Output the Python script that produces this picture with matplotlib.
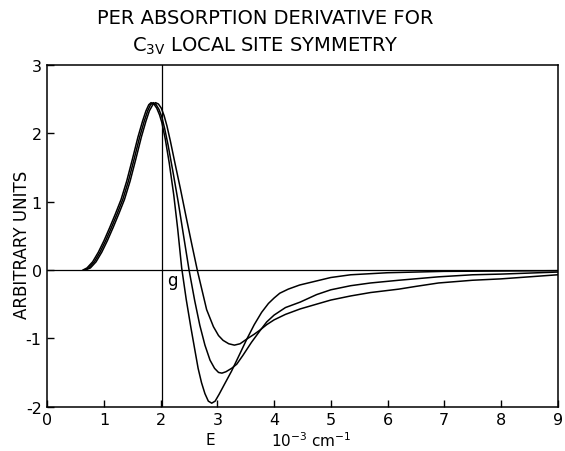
import matplotlib
matplotlib.use("Agg")
import matplotlib.pyplot as plt

# ---------------- data ----------------
title_line1 = "PER ABSORPTION DERIVATIVE FOR"
title_line2 = r"C$_{\mathrm{3V}}$ LOCAL SITE SYMMETRY"
y_label = "ARBITRARY UNITS"
x_label_sym = "E"
x_label_unit = r"10$^{-3}$ cm$^{-1}$"
g_label = "g"
g_position = 2.03

x_ticks = [0, 1, 2, 3, 4, 5, 6, 7, 8, 9]
x_tick_labels = ["0", "1", "2", "3", "4", "5", "6", "7", "8", "9"]
y_ticks = [-2, -1, 0, 1, 2, 3]
y_tick_labels = ["-2", "-1", "0", "1", "2", "3"]

# curve with the deepest minimum
curve_a_x = [0.63, 0.70, 0.80, 0.90, 1.00, 1.10, 1.20, 1.30, 1.40, 1.50, 1.60, 1.68,
             1.74, 1.79, 1.83, 1.88, 1.93, 1.98, 2.02, 2.08, 2.15, 2.23, 2.30, 2.37,
             2.45, 2.53, 2.60, 2.66, 2.72, 2.78, 2.84, 2.90, 2.96, 3.03, 3.12, 3.25,
             3.40, 3.52, 3.65, 3.78, 3.90, 4.00, 4.10, 4.25, 4.45, 4.75, 5.00, 5.35,
             6.00, 7.00, 8.00, 9.00]
curve_a_y = [0.00, 0.03, 0.12, 0.26, 0.43, 0.62, 0.82, 1.03, 1.30, 1.62, 1.95, 2.18,
             2.33, 2.42, 2.45, 2.43, 2.37, 2.27, 2.16, 1.92, 1.57, 1.10, 0.60, 0.03,
             -0.43, -0.83, -1.16, -1.44, -1.65, -1.81, -1.92, -1.95, -1.92, -1.82, -1.68, -1.48,
             -1.22, -1.01, -0.80, -0.62, -0.49, -0.41, -0.34, -0.28, -0.22, -0.16, -0.11, -0.07,
             -0.04, -0.02, -0.015, -0.01]

# curve with the intermediate minimum
curve_b_x = [0.65, 0.73, 0.83, 0.93, 1.03, 1.13, 1.23, 1.33, 1.43, 1.53, 1.63, 1.71,
             1.77, 1.82, 1.87, 1.92, 1.97, 2.02, 2.07, 2.13, 2.22, 2.31, 2.40, 2.50,
             2.60, 2.69, 2.78, 2.87, 2.95, 3.02, 3.08, 3.15, 3.25, 3.34, 3.45, 3.60,
             3.75, 3.87, 4.00, 4.20, 4.46, 4.75, 5.00, 5.35, 5.70, 6.20, 6.90, 7.50,
             8.00, 8.50, 9.00]
curve_b_y = [0.00, 0.03, 0.12, 0.26, 0.43, 0.62, 0.82, 1.03, 1.30, 1.62, 1.95, 2.18,
             2.33, 2.42, 2.45, 2.42, 2.35, 2.24, 2.07, 1.83, 1.42, 0.99, 0.52, 0.00,
             -0.45, -0.81, -1.10, -1.32, -1.44, -1.50, -1.51, -1.49, -1.44, -1.38, -1.25, -1.06,
             -0.89, -0.76, -0.66, -0.55, -0.47, -0.36, -0.29, -0.23, -0.19, -0.15, -0.10, -0.07,
             -0.06, -0.045, -0.03]

# curve with the shallowest minimum
curve_c_x = [0.67, 0.76, 0.86, 0.96, 1.06, 1.16, 1.26, 1.36, 1.46, 1.56, 1.66, 1.74,
             1.80, 1.86, 1.91, 1.96, 2.01, 2.06, 2.11, 2.17, 2.25, 2.35, 2.45, 2.55,
             2.65, 2.73, 2.81, 2.93, 3.02, 3.10, 3.20, 3.30, 3.40, 3.52, 3.65, 3.75,
             3.87, 4.00, 4.20, 4.46, 4.75, 5.00, 5.35, 5.70, 6.20, 6.50, 6.90, 7.50,
             8.00, 8.50, 9.00]
curve_c_y = [0.00, 0.03, 0.12, 0.26, 0.43, 0.62, 0.82, 1.03, 1.30, 1.62, 1.95, 2.18,
             2.33, 2.42, 2.45, 2.43, 2.37, 2.26, 2.11, 1.89, 1.57, 1.18, 0.77, 0.37,
             -0.02, -0.30, -0.58, -0.83, -0.96, -1.03, -1.08, -1.10, -1.08, -1.01, -0.94, -0.88,
             -0.80, -0.73, -0.65, -0.57, -0.50, -0.44, -0.38, -0.33, -0.28, -0.24, -0.19, -0.15,
             -0.13, -0.10, -0.07]

# ---------------- figure ----------------
plt.rcParams["font.family"] = ["DejaVu Sans"]
plt.rcParams["mathtext.fontset"] = "dejavusans"

W, H, DPI = 565, 452, 100
fig = plt.figure(figsize=(W / DPI, H / DPI), dpi=DPI)
ax = fig.add_axes([47.3 / W, 1 - 407.6 / H, (557.6 - 47.3) / W, (407.6 - 66.1) / H])

for xs, ys in [(curve_a_x, curve_a_y), (curve_b_x, curve_b_y), (curve_c_x, curve_c_y)]:
    ax.plot(xs, ys, color="black", lw=1.1, solid_joinstyle="round")

ax.axhline(0, color="black", lw=0.9)
ax.axvline(g_position, color="black", lw=0.9)

ax.set_xlim(0, 9)
ax.set_ylim(-2, 3)
ax.set_xticks(x_ticks)
ax.set_xticklabels(x_tick_labels)
ax.set_yticks(y_ticks)
ax.set_yticklabels(y_tick_labels)
ax.tick_params(direction="in", length=5, width=1.0, labelsize=11.5, color="black")
ax.tick_params(axis="x", pad=4)
ax.tick_params(axis="y", pad=4)
for s in ax.spines.values():
    s.set_linewidth(1.1)

ax.text(2.20, -0.15, g_label, fontsize=12, ha="center", va="center")

ax.text(2.87, -0.097, x_label_sym, fontsize=11, ha="center", va="center",
        transform=ax.get_xaxis_transform())
ax.text(3.95, -0.097, x_label_unit, fontsize=11, ha="left", va="center",
        transform=ax.get_xaxis_transform())

fig.text(22 / W, 1 - 245 / H, y_label, rotation=90, fontsize=12, ha="center", va="center")

fig.text(265 / W, 1 - 18 / H, title_line1, fontsize=14, ha="center", va="center")
fig.text(265 / W, 1 - 46 / H, title_line2, fontsize=14, ha="center", va="center")

fig.savefig("out.png", dpi=DPI)
